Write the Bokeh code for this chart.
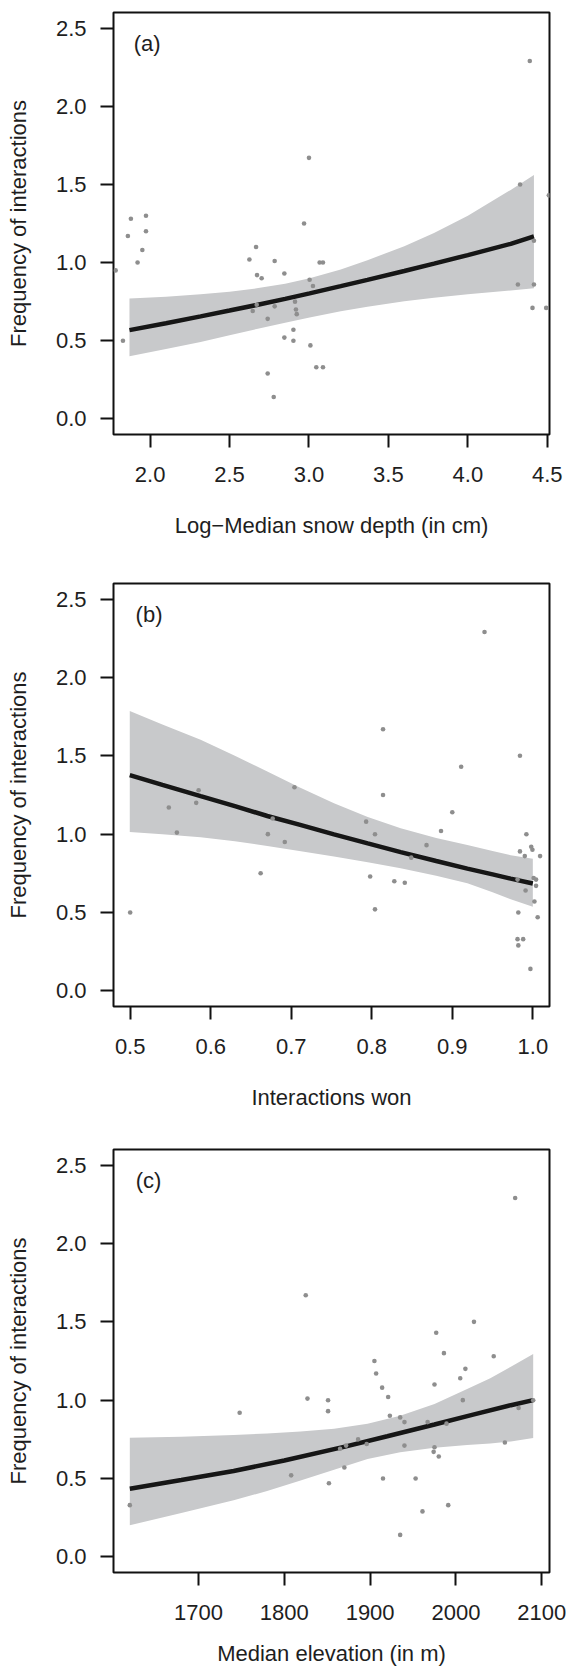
from bokeh.plotting import figure
from bokeh.layouts import column
from bokeh.models import Range1d, FixedTicker, PrintfTickFormatter, Label
from bokeh.embed import file_html
from bokeh.resources import INLINE

# ---------------- data ----------------
y_ticks = [0.0, 0.5, 1.0, 1.5, 2.0, 2.5]

# panel (a): log-median snow depth
a_x = [3.00, 1.783, 1.879, 1.974, 1.860, 1.974, 1.951, 1.921, 1.829, 2.667, 2.625, 2.784, 2.969,
       2.673, 2.702, 2.845, 3.067, 3.088, 3.004, 3.025, 2.671, 2.646, 2.784, 2.740, 2.912, 2.918,
       2.923, 2.902, 2.845, 2.902, 3.009, 3.046, 3.088, 2.740, 2.778, 4.390, 4.329, 4.510, 4.416,
       4.315, 4.416, 4.407, 4.493]
a_y = [1.67, 0.95, 1.28, 1.30, 1.17, 1.20, 1.08, 1.00, 0.50, 1.10, 1.02, 1.01, 1.25,
       0.92, 0.90, 0.93, 1.00, 1.00, 0.89, 0.85, 0.73, 0.69, 0.72, 0.64, 0.75, 0.70,
       0.67, 0.57, 0.52, 0.50, 0.47, 0.33, 0.33, 0.29, 0.14, 2.29, 1.50, 1.43, 1.14,
       0.86, 0.86, 0.71, 0.71]
a_curve_x = [1.870, 2.100, 2.318, 2.500, 2.671, 2.850, 3.004, 3.200, 3.368, 3.600, 3.787, 4.000, 4.270, 4.416]
a_fit_y = [0.568, 0.612, 0.656, 0.693, 0.729, 0.768, 0.803, 0.849, 0.889, 0.946, 0.993, 1.048, 1.120, 1.168]
a_band_hi = [0.770, 0.782, 0.797, 0.813, 0.835, 0.865, 0.900, 0.955, 1.015, 1.105, 1.190, 1.300, 1.465, 1.560]
a_band_lo = [0.400, 0.447, 0.492, 0.535, 0.575, 0.615, 0.648, 0.688, 0.718, 0.752, 0.775, 0.797, 0.822, 0.835]
a_xticks = [2.0, 2.5, 3.0, 3.5, 4.0, 4.5]

# panel (b): interactions won
b_x = [0.814, 0.911, 0.704, 0.814, 0.585, 0.548, 0.582, 0.900, 0.677, 0.793, 0.558, 0.671,
       0.804, 0.886, 0.692, 0.868, 0.849, 0.662, 0.798, 0.828, 0.841, 0.804, 0.500, 0.940,
       0.984, 0.992, 0.984, 0.990, 0.998, 0.9995, 1.009, 0.981, 1.001, 1.004, 0.991, 1.004,
       1.002, 0.982, 1.006, 0.981, 0.988, 0.982, 0.997]
b_y = [1.67, 1.43, 1.30, 1.25, 1.28, 1.17, 1.20, 1.14, 1.10, 1.08, 1.01, 1.00,
       1.00, 1.02, 0.95, 0.93, 0.85, 0.75, 0.73, 0.70, 0.69, 0.52, 0.50, 2.29,
       1.50, 1.00, 0.89, 0.86, 0.92, 0.90, 0.86, 0.71, 0.72, 0.71, 0.64, 0.67,
       0.57, 0.50, 0.47, 0.33, 0.33, 0.29, 0.14]
b_curve_x = [0.4995, 0.540, 0.5875, 0.630, 0.6703, 0.710, 0.7531, 0.795, 0.8359, 0.880, 0.9187, 0.950, 0.9725, 1.000]
b_fit_y = [1.377, 1.315, 1.243, 1.179, 1.116, 1.061, 0.999, 0.941, 0.885, 0.829, 0.780, 0.743, 0.716, 0.685]
b_band_hi = [1.786, 1.700, 1.602, 1.500, 1.400, 1.300, 1.198, 1.110, 1.038, 0.975, 0.931, 0.893, 0.866, 0.843]
b_band_lo = [1.014, 1.000, 0.980, 0.955, 0.925, 0.893, 0.857, 0.820, 0.782, 0.735, 0.686, 0.630, 0.585, 0.536]
b_xticks = [0.5, 0.6, 0.7, 0.8, 0.9, 1.0]

# panel (c): median elevation
c_x = [1825, 2021, 1977, 1986, 2044, 1905, 1907, 2011, 2005, 1914, 1975, 1921, 1827, 1851,
       2008, 1851, 1748, 1923, 1935, 1940, 1967, 1989, 1886, 1865, 1872, 1896, 1940, 1975,
       1974, 1980, 2057, 1870, 1808, 1852, 1915, 1953, 1620, 1991, 1961, 1935, 2069, 2090, 2073]
c_y = [1.67, 1.50, 1.43, 1.30, 1.28, 1.25, 1.17, 1.20, 1.14, 1.08, 1.10, 1.02, 1.01, 1.00,
       1.00, 0.93, 0.92, 0.90, 0.89, 0.86, 0.86, 0.85, 0.75, 0.69, 0.71, 0.72, 0.71, 0.70,
       0.67, 0.64, 0.73, 0.57, 0.52, 0.47, 0.50, 0.50, 0.33, 0.33, 0.29, 0.14, 2.29, 1.00, 0.95]
c_fit_x = [1620, 1680, 1741, 1800, 1872, 1920, 1975, 2020, 2064, 2090]
c_fit_y = [0.435, 0.490, 0.548, 0.615, 0.705, 0.770, 0.845, 0.908, 0.968, 1.000]
c_band_x = [1620, 1680, 1741, 1780, 1819, 1858, 1897, 1935, 1975, 2013, 2040, 2064, 2090]
c_band_hi = [0.760, 0.767, 0.777, 0.788, 0.800, 0.817, 0.850, 0.900, 0.976, 1.072, 1.140, 1.214, 1.294]
c_band_lo = [0.202, 0.280, 0.361, 0.420, 0.488, 0.556, 0.624, 0.668, 0.696, 0.714, 0.724, 0.736, 0.758]
c_xticks = [1700, 1800, 1900, 2000, 2100]

FONT = "Liberation Sans"
TXT = "#1e1e1e"
FS = "22px"


def panel(xr, xticks, fmt, xlabel, tag, tag_x, fx, fy, bx, bhi, blo, px, py,
          top, bottom, fh, title_standoff):
    p = figure(frame_width=436, frame_height=fh, x_range=Range1d(*xr),
               y_range=Range1d(-0.1, 2.6), output_backend="svg", toolbar_location=None,
               min_border_left=113, min_border_right=20, min_border_top=top,
               min_border_bottom=bottom)
    p.background_fill_color = "white"
    p.border_fill_color = "white"
    p.outline_line_color = "#111111"
    p.outline_line_width = 2
    p.outline_line_alpha = 1.0
    p.xgrid.visible = False
    p.ygrid.visible = False

    p.varea(x=bx, y1=blo, y2=bhi, fill_color="#c8c9cb", fill_alpha=1.0)
    p.line(fx, fy, line_color="#161616", line_width=4.5)
    p.scatter(px, py, size=4.6, fill_color="#8e8e8e", line_color=None)

    for ax in (p.xaxis[0], p.yaxis[0]):
        ax.axis_line_color = None
        ax.major_tick_line_color = "#111111"
        ax.major_tick_line_width = 2
        ax.major_tick_in = 0
        ax.major_tick_out = 13
        ax.minor_tick_line_color = None
        ax.major_label_text_font = FONT
        ax.major_label_text_font_size = FS
        ax.major_label_text_color = TXT
        ax.axis_label_text_font = FONT
        ax.axis_label_text_font_size = FS
        ax.axis_label_text_font_style = "normal"
        ax.axis_label_text_color = TXT

    p.xaxis.ticker = FixedTicker(ticks=xticks)
    p.xaxis.formatter = PrintfTickFormatter(format=fmt)
    p.xaxis.major_label_standoff = 19
    p.xaxis.axis_label = xlabel
    p.xaxis.axis_label_standoff = title_standoff

    p.yaxis.ticker = FixedTicker(ticks=y_ticks)
    p.yaxis.formatter = PrintfTickFormatter(format="%.1f")
    p.yaxis.major_label_standoff = 14
    p.yaxis.axis_label = "Frequency of interactions"
    p.yaxis.axis_label_standoff = 22

    p.add_layout(Label(x=tag_x, y=2.40, text=tag, text_font=FONT, text_font_size=FS,
                       text_color=TXT, text_baseline="middle", text_align="left"))
    return p


pa = panel((1.7695, 4.514), a_xticks, "%.1f", "Log\u2212Median snow depth (in cm)", "(a)", 1.897,
           a_curve_x, a_fit_y, a_curve_x, a_band_hi, a_band_lo, a_x, a_y, 12, 145, 422, 28)
pb = panel((0.4793, 1.0207), b_xticks, "%.1f", "Interactions won", "(b)", 0.5067,
           b_curve_x, b_fit_y, b_curve_x, b_band_hi, b_band_lo, b_x, b_y, 4, 139, 423, 28)
pc = panel((1601, 2109), c_xticks, "%d", "Median elevation (in m)", "(c)", 1626.8,
           c_fit_x, c_fit_y, c_band_x, c_band_hi, c_band_lo, c_x, c_y, 4, 0, 423, 18)

layout = column(pa, pb, pc, spacing=0)
open("out.html", "w").write(file_html(layout, INLINE))
